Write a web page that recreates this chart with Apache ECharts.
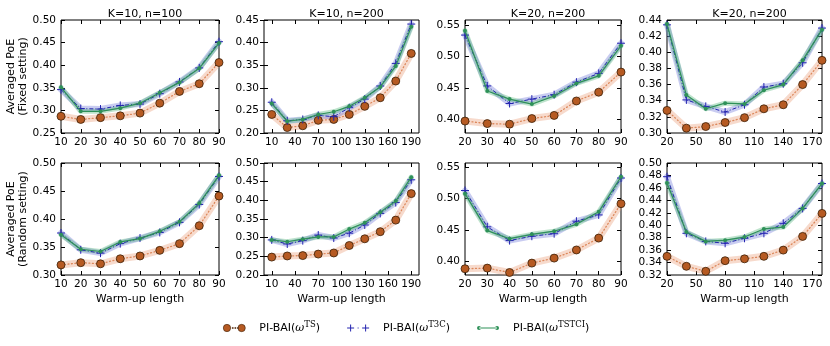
<!DOCTYPE html>
<html>
<head>
<meta charset="utf-8">
<script src="https://cdn.jsdelivr.net/npm/echarts@6/dist/echarts.min.js"></script>
<style>
  html, body { margin: 0; padding: 0; background: #fff; }
  #chart { width: 830px; height: 346px; }
</style>
</head>
<body>
<div id="chart"></div>
<script>
// titles / axis names
var titles = ['K=10, n=100', 'K=10, n=200', 'K=20, n=200', 'K=20, n=200'];
var rowNames = ['Averaged PoE\n(Fixed setting)', 'Averaged PoE\n(Random setting)'];
var xName = 'Warm-up length';

// warm-up lengths (x) per column
var xs1 = [10, 20, 30, 40, 50, 60, 70, 80, 90];
var xs2 = [10, 30, 50, 70, 90, 110, 130, 150, 170, 190];
var xs3 = [20, 30, 40, 50, 60, 70, 80, 90];
var xs4 = [20, 40, 60, 80, 100, 120, 140, 160, 180];

// x tick labels per column
var xTicks1 = [10, 20, 30, 40, 50, 60, 70, 80, 90];
var xTicks2 = [10, 40, 70, 100, 130, 160, 190];
var xTicks3 = [20, 30, 40, 50, 60, 70, 80, 90];
var xTicks4 = [20, 50, 80, 110, 140, 170];

// y tick labels per panel
var yTicks1 = [0.25, 0.30, 0.35, 0.40, 0.45, 0.50];
var yTicks2 = [0.20, 0.25, 0.30, 0.35, 0.40, 0.45];
var yTicks3 = [0.40, 0.45, 0.50, 0.55];
var yTicks4 = [0.30, 0.32, 0.34, 0.36, 0.38, 0.40, 0.42, 0.44];
var yTicks5 = [0.30, 0.35, 0.40, 0.45, 0.50];
var yTicks6 = [0.20, 0.25, 0.30, 0.35, 0.40, 0.45, 0.50];
var yTicks7 = [0.40, 0.45, 0.50, 0.55];
var yTicks8 = [0.32, 0.34, 0.36, 0.38, 0.40, 0.42, 0.44, 0.46, 0.48, 0.50];

// fixed setting
var ts_f1    = [0.287, 0.280, 0.284, 0.288, 0.294, 0.316, 0.342, 0.359, 0.406];
var t3c_f1   = [0.346, 0.304, 0.303, 0.311, 0.314, 0.337, 0.363, 0.394, 0.452];
var tstci_f1 = [0.351, 0.298, 0.298, 0.305, 0.316, 0.339, 0.362, 0.393, 0.449];

var ts_f2    = [0.241, 0.212, 0.216, 0.228, 0.230, 0.241, 0.259, 0.278, 0.315, 0.376];
var t3c_f2   = [0.268, 0.227, 0.230, 0.239, 0.236, 0.256, 0.275, 0.304, 0.354, 0.441];
var tstci_f2 = [0.265, 0.226, 0.230, 0.241, 0.247, 0.259, 0.278, 0.302, 0.348, 0.435];

var ts_f3    = [0.397, 0.393, 0.392, 0.401, 0.406, 0.429, 0.443, 0.475];
var t3c_f3   = [0.534, 0.453, 0.425, 0.432, 0.439, 0.459, 0.473, 0.521];
var tstci_f3 = [0.541, 0.445, 0.432, 0.424, 0.437, 0.457, 0.469, 0.517];

var ts_f4    = [0.328, 0.306, 0.308, 0.313, 0.319, 0.330, 0.335, 0.360, 0.390];
var t3c_f4   = [0.434, 0.341, 0.333, 0.326, 0.335, 0.357, 0.361, 0.387, 0.430];
var tstci_f4 = [0.435, 0.347, 0.330, 0.337, 0.336, 0.353, 0.360, 0.390, 0.428];

// random setting
var ts_r1    = [0.318, 0.322, 0.320, 0.329, 0.334, 0.344, 0.356, 0.388, 0.441];
var t3c_r1   = [0.375, 0.345, 0.339, 0.356, 0.366, 0.376, 0.394, 0.426, 0.476];
var tstci_r1 = [0.372, 0.346, 0.342, 0.359, 0.365, 0.378, 0.395, 0.428, 0.478];

var ts_r2    = [0.248, 0.251, 0.252, 0.256, 0.259, 0.279, 0.297, 0.316, 0.347, 0.418];
var t3c_r2   = [0.294, 0.283, 0.292, 0.307, 0.299, 0.312, 0.334, 0.365, 0.394, 0.455];
var tstci_r2 = [0.294, 0.289, 0.296, 0.302, 0.302, 0.323, 0.340, 0.368, 0.398, 0.462];

var ts_r3    = [0.388, 0.389, 0.382, 0.397, 0.405, 0.418, 0.437, 0.492];
var t3c_r3   = [0.513, 0.455, 0.433, 0.440, 0.444, 0.464, 0.474, 0.533];
var tstci_r3 = [0.508, 0.449, 0.436, 0.443, 0.448, 0.459, 0.479, 0.535];

var ts_r4    = [0.350, 0.334, 0.326, 0.343, 0.346, 0.350, 0.360, 0.382, 0.419];
var t3c_r4   = [0.478, 0.387, 0.374, 0.371, 0.379, 0.387, 0.403, 0.427, 0.467];
var tstci_r4 = [0.468, 0.389, 0.374, 0.376, 0.381, 0.394, 0.397, 0.427, 0.467];

var colXs = [xs1, xs2, xs3, xs4];
var colTicks = [xTicks1, xTicks2, xTicks3, xTicks4];
var colLim = [[10, 90], [0, 200], [20, 90], [20, 180]];
var panelYTicks = [yTicks1, yTicks2, yTicks3, yTicks4, yTicks5, yTicks6, yTicks7, yTicks8];
var panelYLim = [[0.25, 0.50], [0.20, 0.45], [0.378, 0.558], [0.30, 0.44],
                 [0.30, 0.50], [0.20, 0.50], [0.378, 0.557], [0.32, 0.50]];
var panelData = [
  [ts_f1, t3c_f1, tstci_f1], [ts_f2, t3c_f2, tstci_f2], [ts_f3, t3c_f3, tstci_f3], [ts_f4, t3c_f4, tstci_f4],
  [ts_r1, t3c_r1, tstci_r1], [ts_r2, t3c_r2, tstci_r2], [ts_r3, t3c_r3, tstci_r3], [ts_r4, t3c_r4, tstci_r4]
];

var lefts = [61, 264, 465, 667];
var widths = [158, 155, 156, 155];
var tops = [20, 163];
var heights = [113, 112];

var bandColors = ['rgba(232,150,110,0.35)', 'rgba(100,110,215,0.35)', 'rgba(70,175,110,0.35)'];
var bandWidths = [7, 6, 5];

function pairs(xs, ys) {
  return xs.map(function (x, i) { return [x, ys[i]]; });
}

// two-decimal y labels, wrapped as rich text so the string is kept as is
function fmtRich(v) {
  var n = (v !== null && typeof v === 'object') ? v.value : v;
  return '{n|' + Number(n).toFixed(2) + '}';
}

var option = {
  animation: false,
  textStyle: { fontFamily: 'DejaVu Sans' },
  title: [], grid: [], xAxis: [], yAxis: [], series: []
};

for (var p = 0; p < 8; p++) {
  var row = Math.floor(p / 4), col = p % 4;
  var xl = colLim[col], yl = panelYLim[p];
  var cx = colTicks[col], cy = panelYTicks[p];
  var step = Math.round((cy[1] - cy[0]) * 1000) / 1000;
  var regular = Math.abs(cy[0] - yl[0]) < 1e-9;

  if (row === 0) {
    option.title.push({
      text: titles[col],
      left: lefts[col] + widths[col] / 2,
      top: 4,
      textAlign: 'center',
      textStyle: { fontSize: 11, fontWeight: 'normal', color: '#000', fontFamily: 'DejaVu Sans' }
    });
  }

  option.grid.push({
    left: lefts[col], top: tops[row], width: widths[col], height: heights[row],
    show: true, borderColor: '#000', borderWidth: 1, backgroundColor: 'transparent'
  });

  var tick = { inside: true, length: 4, lineStyle: { color: '#000', width: 1 } };

  // bottom and top x axes
  [0, 1].forEach(function (k) {
    option.xAxis.push({
      gridIndex: p, type: 'value', min: xl[0], max: xl[1],
      position: k === 0 ? 'bottom' : 'top',
      axisLine: { show: false },
      axisTick: Object.assign({}, tick, { customValues: cx }),
      axisLabel: k === 0
        ? { show: true, customValues: cx, color: '#000', fontSize: 10.5, margin: 4 }
        : { show: false },
      splitLine: { show: false },
      name: (k === 0 && row === 1) ? xName : '',
      nameLocation: 'middle', nameGap: 19,
      nameTextStyle: { fontSize: 11, color: '#000' }
    });
  });

  // left and right y axes
  [0, 1].forEach(function (k) {
    var ax = {
      gridIndex: p, type: 'value', min: yl[0], max: yl[1],
      position: k === 0 ? 'left' : 'right',
      axisLine: { show: false },
      axisTick: Object.assign({}, tick),
      axisLabel: k === 0
        ? { show: true, color: '#000', fontSize: 10.5, margin: 5, formatter: fmtRich,
            rich: { n: { fontSize: 10.5, color: '#000', fontFamily: 'DejaVu Sans' } } }
        : { show: false },
      splitLine: { show: false },
      name: (k === 0 && col === 0) ? rowNames[row] : '',
      nameLocation: 'middle', nameGap: 22, nameRotate: 90,
      nameTextStyle: { fontSize: 11, color: '#000', lineHeight: 12 }
    };
    if (regular) {
      ax.interval = step;
    } else {
      ax.axisTick.customValues = cy;
      ax.axisLabel.customValues = cy;
    }
    option.yAxis.push(ax);
  });

  var xs = colXs[col];
  var d = panelData[p];
  // shaded bands behind each curve
  for (var s = 0; s < 3; s++) {
    option.series.push({
      type: 'line', xAxisIndex: 2 * p, yAxisIndex: 2 * p,
      data: pairs(xs, d[s]), symbol: 'none', silent: true, z: 1,
      lineStyle: { width: bandWidths[s], color: bandColors[s], join: 'round', cap: 'round' }
    });
  }
  option.series.push({
    name: 'TS', type: 'line', xAxisIndex: 2 * p, yAxisIndex: 2 * p, z: 3,
    data: pairs(xs, d[0]),
    symbol: 'circle', symbolSize: 8,
    itemStyle: { color: '#b65a22', borderColor: '#3a2008', borderWidth: 0.8 },
    lineStyle: { color: '#dd8a5e', width: 1.3, type: [1, 2.5], cap: 'round' }
  });
  option.series.push({
    name: 'T3C', type: 'line', xAxisIndex: 2 * p, yAxisIndex: 2 * p, z: 4,
    data: pairs(xs, d[1]),
    symbol: 'path://M0,5L10,5M5,0L5,10', symbolSize: 8,
    itemStyle: { color: 'transparent', borderColor: '#2424b0', borderWidth: 1 },
    lineStyle: { color: '#2424b0', width: 1, type: [4, 2, 1, 2] }
  });
  option.series.push({
    name: 'TSTCI', type: 'line', xAxisIndex: 2 * p, yAxisIndex: 2 * p, z: 5,
    data: pairs(xs, d[2]),
    symbol: 'circle', symbolSize: 4,
    itemStyle: { color: '#2e9158', borderWidth: 0 },
    lineStyle: { color: '#2e9158', width: 1.2 }
  });
}

option.legend = {
  left: 218, top: 315,
  itemWidth: 22, itemHeight: 8, itemGap: 27,
  data: [
    { name: 'TS', icon: 'path://M0.5,4a3.5,3.5 0 1,0 7,0a3.5,3.5 0 1,0 -7,0ZM9,3.5h1v1h-1ZM11.5,3.5h1v1h-1ZM14,3.5h1v1h-1ZM14.5,4a3.5,3.5 0 1,0 7,0a3.5,3.5 0 1,0 -7,0Z',
      itemStyle: { color: '#b65a22', borderColor: '#3a2008', borderWidth: 0.6 } },
    { name: 'T3C', icon: 'path://M0,3.5h7v1h-7ZM3,0.5h1v7h-1ZM10.5,3.5h1v1h-1ZM15,3.5h7v1h-7ZM18,0.5h1v7h-1Z',
      itemStyle: { color: '#2424b0', borderWidth: 0 } },
    { name: 'TSTCI', icon: 'path://M0,4a2,2 0 1,0 4,0a2,2 0 1,0 -4,0ZM2,3.5h18v1h-18ZM18,4a2,2 0 1,0 4,0a2,2 0 1,0 -4,0ZM0,0.5h0.01v0.01h-0.01ZM0,7.5h0.01v0.01h-0.01Z',
      itemStyle: { color: '#2e9158', borderWidth: 0 } }
  ],
  formatter: function (name) {
    return '{p|PI-BAI(}{w|ω}{s|' + name + '}{a|)}';
  },
  textStyle: {
    color: '#000',
    rich: {
      p: { fontSize: 11, fontFamily: 'DejaVu Sans', color: '#000', padding: [0, 0, 0, 9] },
      a: { fontSize: 11, fontFamily: 'DejaVu Sans', color: '#000' },
      w: { fontSize: 11, fontFamily: 'DejaVu Serif', fontStyle: 'italic', color: '#000' },
      s: { fontSize: 8.5, fontFamily: 'DejaVu Serif', color: '#000', padding: [0, 0, 7, 0] }
    }
  }
};

var chart = echarts.init(document.getElementById('chart'), null, { renderer: 'canvas' });
chart.setOption(option);
</script>
</body>
</html>
